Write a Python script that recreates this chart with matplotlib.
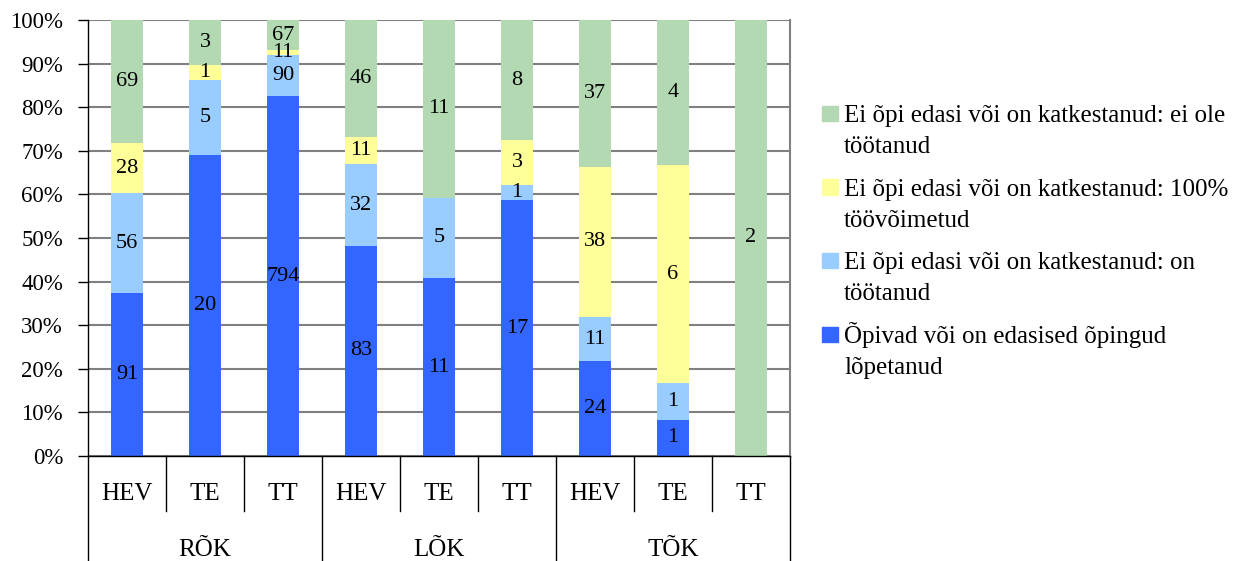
"""
100% stacked bars: outcomes by school type and group
"""
import matplotlib
matplotlib.use("Agg")
import matplotlib.pyplot as plt
from matplotlib.patches import Rectangle
import numpy as np

plt.rcParams['font.family'] = ['Liberation Serif', 'DejaVu Serif']

groups = ["RÕK", "LÕK", "TÕK"]
subgroups = ["HEV", "TE", "TT"]

# counts per bar, bottom to top
opivad = [91, 20, 794, 83, 11, 17, 24, 1, 0]
on_tootanud = [56, 5, 90, 32, 5, 1, 11, 1, 0]
toovoimetud = [28, 1, 11, 11, 0, 3, 38, 6, 0]
ei_ole = [69, 3, 67, 46, 11, 8, 37, 4, 2]

series = [opivad, on_tootanud, toovoimetud, ei_ole]
colors = ["#3366FF", "#99CCFF", "#FFFF99", "#B3D9B3"]
labels = ["Õpivad või on edasised õpingud\nlõpetanud",
          "Ei õpi edasi või on katkestanud: on\ntöötanud",
          "Ei õpi edasi või on katkestanud: 100%\ntöövõimetud",
          "Ei õpi edasi või on katkestanud: ei ole\ntöötanud"]

W, H = 1259, 561
fig = plt.figure(figsize=(W / 100, H / 100), dpi=100)
ax = fig.add_axes([88 / W, 1 - 456 / H, (790 - 88) / W, (456 - 20) / H])

counts = np.array(series, dtype=float)
pct = counts / counts.sum(axis=0) * 100
x = np.arange(counts.shape[1])
bottom = np.zeros(len(x))
for vals, p, c in zip(series, pct, colors):
    ax.bar(x, p, 0.42, bottom=bottom, color=c, zorder=2)
    for xi, v, b, h in zip(x, vals, bottom, p):
        if v > 0:
            ax.text(xi, b + h / 2, str(v), ha='center', va='center',
                    fontsize=16, zorder=3)
    bottom += p

ax.set_xlim(-0.5, len(x) - 0.5)
ax.set_ylim(0, 100)
ax.set_yticks(np.arange(0, 101, 10))
ax.set_yticklabels([f"{v}%" for v in range(0, 101, 10)], fontsize=16.5)
ax.tick_params(axis='y', length=7, width=1, pad=11)
ax.set_xticks([])
ax.yaxis.grid(True, color='#808080', lw=1.5, zorder=0)
ax.set_axisbelow(True)
ax.spines['top'].set_visible(False)
ax.spines['right'].set_color('#808080')
ax.spines['right'].set_linewidth(1.5)
ax.spines['left'].set_linewidth(1)
ax.spines['bottom'].set_linewidth(1)

# two-level category axis
trans = ax.get_xaxis_transform()
px = 1 / 436
for i in range(len(x) + 1):
    edge = i - 0.5
    low = -(561 - 456) * px if i % 3 == 0 else -(511 - 456) * px
    ax.plot([edge, edge], [0, low], color='black', lw=1, transform=trans,
            clip_on=False)
for i in x:
    ax.text(i, -38 * px, subgroups[i % 3], ha='center', va='center',
            fontsize=18, transform=trans)
for g, name in enumerate(groups):
    ax.text(g * 3 + 1, -94 * px, name, ha='center', va='center',
            fontsize=18, transform=trans)

# legend, top entry first
for k, idx in enumerate([3, 2, 1, 0]):
    base = 122 + 73.7 * k
    fig.add_artist(Rectangle((822 / W, 1 - (base - 1) / H), 15.5 / W, 15.5 / H,
                             transform=fig.transFigure, color=colors[idx]))
    for j, line in enumerate(labels[idx].split("\n")):
        fig.text(844 / W, 1 - (base + 31 * j) / H, line, ha='left',
                 va='baseline', fontsize=18)

fig.savefig("out.png", dpi=100)
